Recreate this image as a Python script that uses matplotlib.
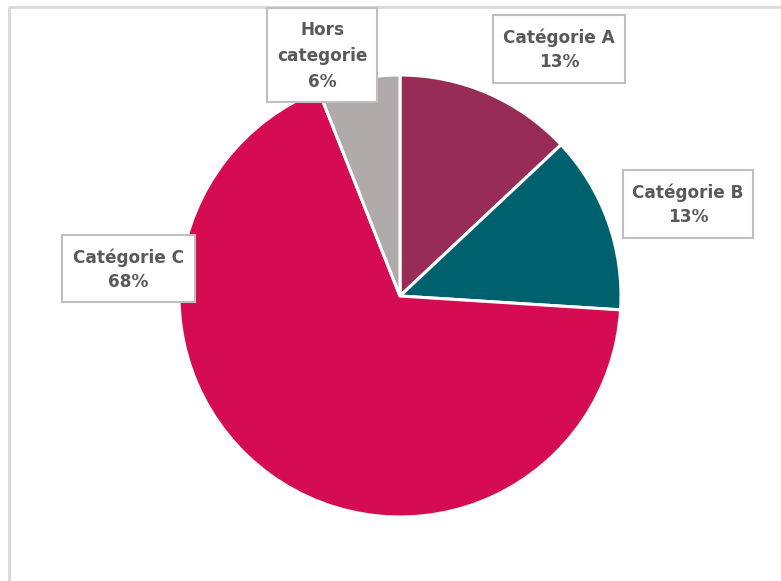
import matplotlib
matplotlib.use("Agg")
import matplotlib.pyplot as plt
from matplotlib.patches import Rectangle
from matplotlib.lines import Line2D

# données
categories = ["Catégorie A", "Catégorie B", "Catégorie C", "Hors\ncategorie"]
valeurs = [13, 13, 68, 6]
couleurs = ["#972D56", "#00616E", "#D50C51", "#AEABAA"]

W, H = 781, 581
fig = plt.figure(figsize=(W / 100, H / 100), dpi=100)
ax = fig.add_axes([0, 0, 1, 1])

# camembert (coordonnées en pixels, y vers le haut)
cx, cy, r = 400, H - 296, 221
ax.pie(valeurs, colors=couleurs, startangle=90, counterclock=False,
       center=(cx, cy), radius=r,
       wedgeprops=dict(edgecolor="white", linewidth=2.2))
ax.set_xlim(0, W)
ax.set_ylim(0, H)
ax.set_aspect("equal")
ax.axis("off")

# cadre du graphique (seulement gauche et haut visibles)
ax.add_line(Line2D([9, 9, W], [0, H - 7, H - 7], color="#D9D9D9", lw=2))

# étiquettes : boîtes (x0, y0, x1, y1) en pixels depuis le haut
boites = [(493, 15, 625, 83), (623, 170, 753, 238),
          (62, 235, 195, 302), (267, 8, 377, 102)]
for cat, val, (x0, y0, x1, y1) in zip(categories, valeurs, boites):
    ax.add_patch(Rectangle((x0, H - y1), x1 - x0, y1 - y0, facecolor="white",
                           edgecolor="#BFBFBF", lw=1.5, zorder=3))
    esp = 1.55 if "\n" in cat else 1.4
    ax.text((x0 + x1) / 2, H - (y0 + y1) / 2 - 1, f"{cat}\n{val}%", ha="center",
            va="center", fontsize=12.2, fontweight="bold", color="#595959",
            linespacing=esp, zorder=4)

fig.savefig("out.png", dpi=100, facecolor="white")
